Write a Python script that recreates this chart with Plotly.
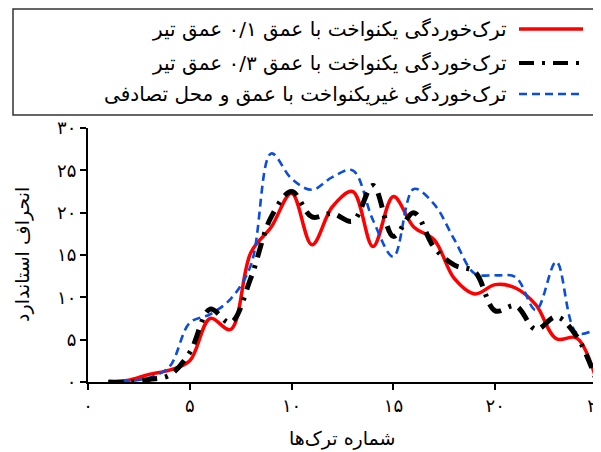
import plotly.graph_objects as go

# ---- data ----
crack_no = list(range(1, 26))
uniform_01 = [0.0, 0.2, 0.9, 1.4, 2.5, 7.5, 6.2, 15.3, 18.3, 22.3, 16.2, 20.7, 22.5,
              16.0, 21.9, 18.3, 16.8, 12.2, 10.4, 11.5, 11.1, 9.1, 5.1, 5.2, 0.0]
uniform_03 = [0.0, 0.0, 0.3, 0.8, 3.5, 8.6, 7.0, 12.3, 19.5, 22.5, 19.5, 19.9, 19.0,
              23.2, 17.2, 20.0, 15.9, 13.8, 13.0, 8.4, 9.0, 6.2, 7.7, 5.4, 0.0]
random_nonuni = [0.0, 0.1, 0.5, 1.8, 7.0, 8.0, 9.8, 13.8, 27.0, 24.0, 22.7, 24.2, 25.0,
                 19.1, 14.8, 22.8, 21.0, 16.8, 12.8, 12.6, 12.4, 8.5, 14.2, 5.8, 6.3]

series_names = [
    "ترک‌خوردگی یکنواخت با عمق ۰/۱ عمق تیر",
    "ترک‌خوردگی یکنواخت با عمق ۰/۳ عمق تیر",
    "ترک‌خوردگی غیریکنواخت با عمق و محل تصادفی",
]
x_ticks = [0, 5, 10, 15, 20, 25]
y_ticks = [0, 5, 10, 15, 20, 25, 30]
x_title = "شماره ترک‌ها"
y_title = "انحراف استاندارد"

FA = str.maketrans("0123456789", "۰۱۲۳۴۵۶۷۸۹")
def fa(v):
    return str(v).translate(FA)

FONT = "DejaVu Sans"
styles = [
    dict(color="#ff0000", width=3.5, dash="solid"),
    dict(color="#000000", width=5, dash="15px,8px,3px,8px"),
    dict(color="#0a4de0", width=2.6, dash="8px,5px"),
]
data = [uniform_01, uniform_03, random_nonuni]

fig = go.Figure()
for idx in [0, 2, 1]:
    fig.add_trace(go.Scatter(
        x=crack_no, y=data[idx], mode="lines", name=series_names[idx],
        line=dict(shape="spline", smoothing=1.0, **styles[idx]),
        showlegend=False, cliponaxis=False,
    ))

axis_common = dict(
    showline=True, linecolor="black", linewidth=2,
    ticks="outside", ticklen=6, tickwidth=2, tickcolor="black",
    showgrid=False, zeroline=False, automargin=False,
    tickfont=dict(family=FONT, size=18, color="black"),
)
fig.update_xaxes(range=[0, 25], tickvals=x_ticks, ticktext=[fa(v) for v in x_ticks],
                 ticklabeloverflow="allow", **axis_common)
fig.update_yaxes(range=[0, 30], tickvals=y_ticks, ticktext=[fa(v) for v in y_ticks],
                 **axis_common)

# page has an 8px body margin: figure coords = page coords - 8
OFF = 8
W, H = 601 - OFF, 452 - OFF
L = 88 - OFF
T = 128 - OFF
B = H - (382 - OFF)
R = W - (597 - OFF)
pw, ph = W - L - R, H - T - B

def px2paper(px, py):
    # px, py in page pixels
    fx, fy = px - OFF, py - OFF
    return (fx - L) / pw, (H - B - fy) / ph

shapes = []
x0, y1 = px2paper(13, 9)
x1, y0 = px2paper(606, 115)
shapes.append(dict(type="rect", xref="paper", yref="paper", x0=x0, x1=x1, y0=y0, y1=y1,
                   line=dict(color="#333333", width=1.5), fillcolor="white", layer="below"))
annotations = []
rows_y = [29, 63, 94]
for i, yy in enumerate(rows_y):
    lx0, ly = px2paper(519, yy)
    lx1, _ = px2paper(583, yy)
    st = styles[i]
    shapes.append(dict(type="line", xref="paper", yref="paper", x0=lx0, x1=lx1, y0=ly, y1=ly,
                       line=dict(color=st["color"], width=min(st["width"], 4),
                                 dash=st["dash"])))
    tx, _ = px2paper(509, yy)
    annotations.append(dict(xref="paper", yref="paper", x=tx, y=ly, text=series_names[i],
                            showarrow=False, xanchor="right", yanchor="middle",
                            font=dict(family=FONT, size=20, color="black")))

ax_, ay_ = px2paper(342, 438)
annotations.append(dict(xref="paper", yref="paper", x=ax_, y=ay_, text=x_title,
                        showarrow=False, xanchor="center", yanchor="middle",
                        font=dict(family=FONT, size=19, color="black")))
bx_, by_ = px2paper(22, 255)
annotations.append(dict(xref="paper", yref="paper", x=bx_, y=by_, text=y_title,
                        showarrow=False, textangle=-90, xanchor="center", yanchor="middle",
                        font=dict(family=FONT, size=19, color="black")))

fig.update_layout(
    width=W, height=H, margin=dict(l=L, r=R, t=T, b=B),
    paper_bgcolor="white", plot_bgcolor="white",
    shapes=shapes, annotations=annotations, showlegend=False,
)
fig.write_html("out.html")
